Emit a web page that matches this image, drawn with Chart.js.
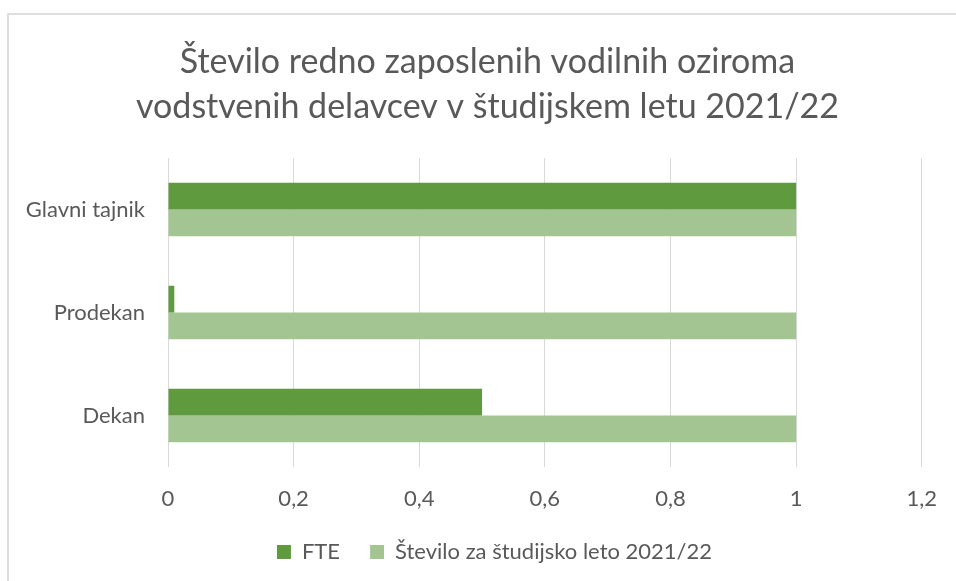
<!DOCTYPE html>
<html>
<head>
<meta charset="utf-8">
<script src="https://cdn.jsdelivr.net/npm/chart.js@4"></script>
<style>
  html, body { margin: 0; padding: 0; background: #ffffff; }
  #wrap { position: relative; width: 956px; height: 581px; overflow: hidden; }
  #frame { position: absolute; left: 7px; top: 13px; width: 1000px; height: 700px;
           border: 2px solid #dedede; box-sizing: border-box; pointer-events: none; }
  canvas { position: absolute; left: 0; top: 0; }
</style>
</head>
<body>
<div id="wrap">
  <canvas id="c" width="956" height="581"></canvas>
  <div id="frame"></div>
</div>
<script>
const titleLines = ['Število redno zaposlenih vodilnih oziroma', 'vodstvenih delavcev v študijskem letu 2021/22'];
const categories = ['Glavni tajnik', 'Prodekan', 'Dekan'];
const seriesNames = ['FTE', 'Število za študijsko leto 2021/22'];
const fteValues = [1, 0.01, 0.5];
const steviloValues = [1, 1, 1];
const xTickMin = 0;
const xTickMax = 1.2;
const xTickStep = 0.2;

const textColor = '#595959';
const fontFamily = 'Lato, "Open Sans", sans-serif';

const boxShift = {
  id: 'boxShift',
  afterLayout(chart) {
    if (chart.legend) { chart.legend.left = 66; }
    if (chart.titleBlock) { chart.titleBlock.left = 52; }
  }
};

new Chart(document.getElementById('c'), {
  type: 'bar',
  data: {
    labels: categories,
    datasets: [
      { label: seriesNames[0], data: fteValues, backgroundColor: '#5f9a3f',
        categoryPercentage: 0.52, barPercentage: 1 },
      { label: seriesNames[1], data: steviloValues, backgroundColor: '#a3c591',
        categoryPercentage: 0.52, barPercentage: 1 }
    ]
  },
  plugins: [boxShift],
  options: {
    indexAxis: 'y',
    responsive: false,
    animation: false,
    devicePixelRatio: 1,
    layout: { padding: { top: 25, right: 33, bottom: 8, left: 0 } },
    plugins: {
      title: {
        display: true,
        text: titleLines,
        color: textColor,
        font: { family: fontFamily, size: 34, weight: 'normal', lineHeight: 45 / 34 },
        padding: { top: 15, bottom: 28 }
      },
      legend: {
        position: 'bottom',
        labels: {
          color: textColor,
          font: { family: fontFamily, size: 22 },
          boxWidth: 14,
          boxHeight: 14,
          padding: 30
        }
      },
      tooltip: { enabled: false }
    },
    scales: {
      x: {
        min: xTickMin,
        max: xTickMax,
        ticks: {
          stepSize: xTickStep,
          color: textColor,
          font: { family: fontFamily, size: 22 },
          padding: 19,
          callback: (v) => String(Math.round(v * 10) / 10).replace('.', ',')
        },
        grid: { color: '#d9d9d9', lineWidth: 1, drawTicks: false },
        border: { display: false },
        afterFit: (scale) => { scale.height = 44; }
      },
      y: {
        ticks: {
          color: textColor,
          font: { family: fontFamily, size: 22 },
          padding: 23
        },
        grid: { display: false, drawTicks: false },
        border: { display: false },
        afterFit: (scale) => { scale.width = 168; }
      }
    }
  }
});
</script>
</body>
</html>
